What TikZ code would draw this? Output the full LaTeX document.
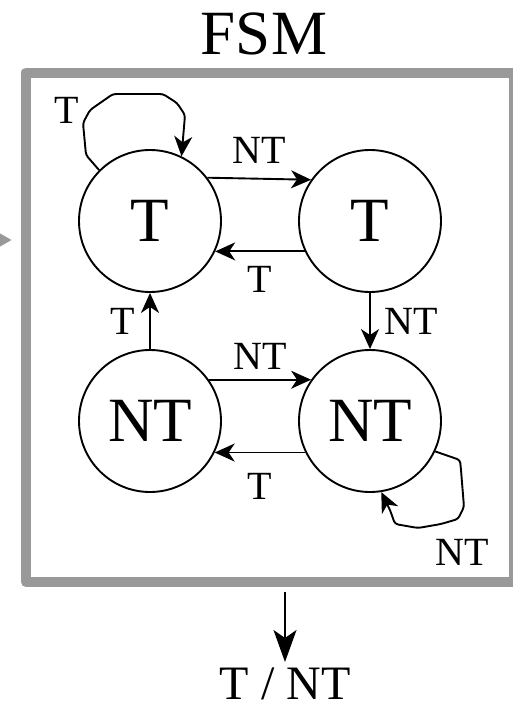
\documentclass[tikz,border=0pt]{standalone}
\usepackage{fontspec}
\setmainfont{Liberation Serif}
\usetikzlibrary{
    arrows.meta,
    positioning
}
\definecolor{framegray}{HTML}{999999}

\begin{document}
\begin{tikzpicture}[x=1pt, y=-1pt, node distance=200pt and 220pt, on grid,
        line width=1.9pt,
        state/.style={draw, circle, minimum size=142pt, inner sep=0pt,
            font=\fontsize{63}{63}\selectfont},
        lbl/.style={font=\fontsize{40}{40}\selectfont, inner sep=14pt},
        trans/.style={-{Stealth[length=20pt, width=18pt, inset=6pt]}},
        frame/.style={draw=framegray, line width=10pt, line join=round}]
            \useasboundingbox (0,0) rectangle (512,710);
            % machine frame and title
            \node[frame, minimum width=488pt, minimum height=509.5pt, inner sep=0pt] (fsm) at (270,327.25) {};
            \node[font=\fontsize{63}{63}\selectfont] (title) at (264,34) {FSM};
            \coordinate (feed) at (-40,240);
            \draw[draw=framegray, line width=8pt, -{Triangle[length=25pt, width=26pt]}, shorten >=9pt] (feed) -- (feed -| fsm.west);
            % states
            \node[state] (A) at (150,221) {T};
            \node[state] (B) [right=of A] {T};
            \node[state] (C) [below=of A] {NT};
            \node[state] (D) [right=of C] {NT};
            % transitions
            \draw[trans] (A.37) to node[lbl, above] {NT} (B.145);
            \draw[trans] (B.205) to node[lbl, below] {T} (A.-25);
            \draw[trans] (B.south) to node[lbl, right] {NT} (D.north);
            \draw[trans] (C.north) to node[lbl, left] {T} (A.south);
            \draw[trans] (C.35) to node[lbl, above, inner sep=9pt] {NT} (D.145);
            \draw[trans] (D.206) to node[lbl, below, inner sep=20pt] {T} (C.-26);
            % self loops
            \draw[trans, rounded corners=3pt] (A.135) -- (86,155) -- (83,123) -- (90,110) -- (113,94)
                -- (163,94) -- (177,103) -- (185,115) -- (A.64);
            \node[lbl, inner sep=0pt] (loopA) at (67,110) {T};
            \draw[trans, rounded corners=3pt] (D.-25) -- (460,460) -- (461,470) -- (464,507) -- (458,519)
                -- (441,524) -- (418,528) -- (395,524) -- (390,510) -- (D.-81);
            \node[lbl, inner sep=0pt] (loopD) at (462,552) {NT};
            % output
            \node[font=\fontsize{48}{48}\selectfont, inner sep=1pt] (result) at (285,684) {T / NT};
            \draw[-{Stealth[length=32pt, width=23pt, inset=8pt]}, shorten >=4pt] ([xshift=15pt, yshift=-5pt]fsm.south) -- (result.north);
\end{tikzpicture}
\end{document}
